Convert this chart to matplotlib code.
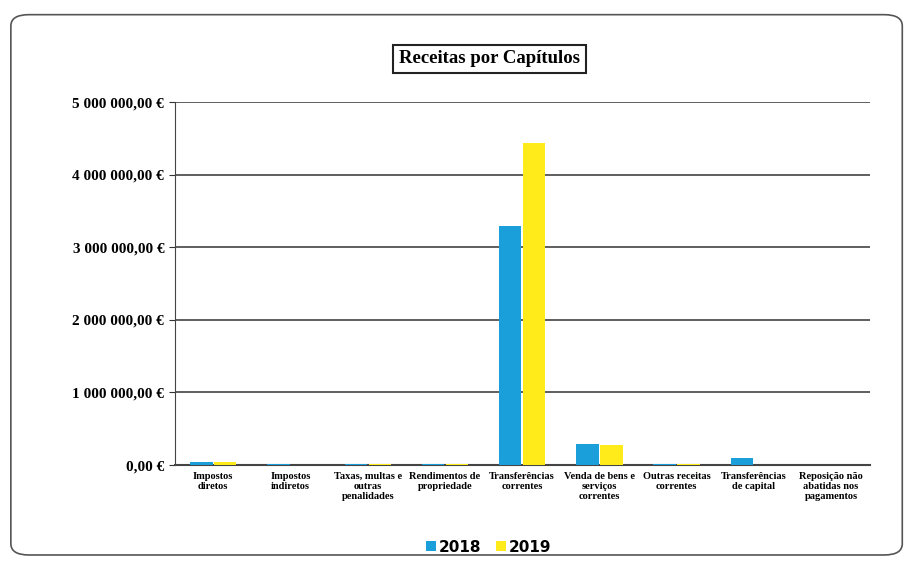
"""
Receitas por Capítulos - bar chart 2018 vs 2019
"""

import numpy as np
import matplotlib
matplotlib.use('Agg')
import matplotlib.pyplot as plt
from matplotlib.patches import FancyBboxPatch
from matplotlib.ticker import FuncFormatter

# Data
categories = [
    'Impostos\ndiretos',
    'Impostos\nindiretos',
    'Taxas, multas e\noutras\npenalidades',
    'Rendimentos de\npropriedade',
    'Transferências\ncorrentes',
    'Venda de bens e\nserviços\ncorrentes',
    'Outras receitas\ncorrentes',
    'Transferências\nde capital',
    'Reposição não\nabatidas nos\npagamentos',
]
values_2018 = [40000, 8000, 20000, 10000, 3290000, 290000, 8000, 100000, 5000]
values_2019 = [35000, 6000, 15000, 8000, 4430000, 280000, 10000, 3000, 2000]
y_ticks = [0, 1000000, 2000000, 3000000, 4000000, 5000000]

blue = '#1A9FDB'
yellow = '#FFEA1A'
serif = ['Liberation Serif', 'DejaVu Serif']

fig = plt.figure(figsize=(9.05, 5.64), dpi=100)

# Rounded outer frame
frame = FancyBboxPatch((0.012, 0.016), 0.985, 0.958, boxstyle='round,pad=0,rounding_size=0.02',
                       transform=fig.transFigure, facecolor='none', edgecolor='#555555',
                       linewidth=1.2, zorder=0)
fig.patches.append(frame)

ax = fig.add_axes([0.193, 0.1755, 0.768, 0.6435])

x = np.arange(len(categories))
w = 0.29
ax.bar(x - w / 2 - 0.01, values_2018, w, color=blue, label='2018', zorder=3)
ax.bar(x + w / 2 + 0.01, values_2019, w, color=yellow, label='2019', zorder=3)

ax.set_xlim(-0.5, len(categories) - 0.5)
ax.set_ylim(0, 5000000)
ax.set_yticks(y_ticks)
ax.yaxis.set_major_formatter(FuncFormatter(
    lambda v, p: '{:,.2f} €'.format(v).replace(',', ' ').replace('.', ',')))
ax.grid(axis='y', color='#333333', linewidth=1.1, zorder=0)

ax.set_xticks(x)
ax.set_xticklabels(categories, fontsize=7.5, fontweight='bold', family=serif, linespacing=1.15)
for lbl in ax.get_yticklabels():
    lbl.set_family(serif)
    lbl.set_fontweight('bold')
    lbl.set_fontsize(11)
ax.tick_params(axis='x', length=0, pad=5)
ax.tick_params(axis='y', length=4, color='#333333')

for side in ['top', 'right']:
    ax.spines[side].set_visible(False)
ax.spines['left'].set_color('#444444')
ax.spines['bottom'].set_color('#444444')
ax.spines['bottom'].set_linewidth(1.5)

# Title in a box
fig.text(0.541, 0.896, 'Receitas por Capítulos', ha='center', va='center',
         fontsize=13.5, fontweight='bold', family=serif,
         bbox=dict(boxstyle='square,pad=0.3', facecolor='white', edgecolor='#222222',
                   linewidth=1.5))

# Legend
leg = fig.legend(loc='center', bbox_to_anchor=(0.54, 0.03), ncol=2, frameon=False,
                 handlelength=0.6, handleheight=0.6, handletextpad=0.2, columnspacing=1.0,
                 prop={'family': 'DejaVu Sans', 'weight': 'bold', 'size': 11})

fig.savefig('out.png', dpi=100)
